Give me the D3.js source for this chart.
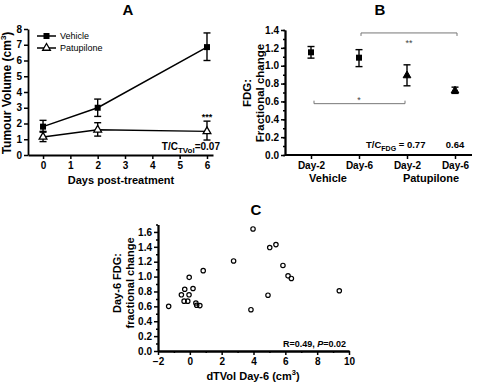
<!DOCTYPE html>
<html><head><meta charset="utf-8">
<script src="https://cdn.jsdelivr.net/npm/d3@7"></script>
<style>
body{margin:0;background:#fff;}
svg{font-family:"Liberation Sans",Arial,sans-serif;}
</style></head>
<body><svg id="c" width="480" height="383"></svg>
<script>
// ---- Panel A data ----
const daysA = [0, 2, 6];
const vehicleMean = [1.8, 3.0, 6.85];
const vehicleLo = [1.45, 2.45, 6.0];
const vehicleHi = [2.2, 3.55, 7.75];
const patuMean = [1.15, 1.6, 1.5];
const patuLo = [0.85, 1.2, 0.95];
const patuHi = [1.5, 2.05, 2.15];
const ticksAx = [0, 1, 2, 3, 4, 5, 6];
const ticksAy = [0, 1, 2, 3, 4, 5, 6, 7, 8];

// ---- Panel B data ----
const catsB = ["V-Day-2", "V-Day-6", "P-Day-2", "P-Day-6"];
const catLabelsB = ["Day-2", "Day-6", "Day-2", "Day-6"];
const groupB = ["Vehicle", "Vehicle", "Patupilone", "Patupilone"];
const meanB = [1.15, 1.09, 0.89, 0.72];
const loB = [1.085, 0.99, 0.775, 0.69];
const hiB = [1.215, 1.18, 1.01, 0.76];
const ticksBy = [0, 0.2, 0.4, 0.6, 0.8, 1.0, 1.2, 1.4];

// ---- Panel C data ----
const dTVol = [-1.33, -0.53, -0.32, -0.36, -0.13, -0.05, -0.04, 0.20, 0.38, 0.43, 0.63, 0.84, 2.75, 3.84, 3.97, 4.91, 5.02, 5.41, 5.85, 6.17, 6.38, 9.39];
const fdgC  = [0.60, 0.755, 0.83, 0.67, 0.67, 0.755, 0.99, 0.84, 0.645, 0.615, 0.61, 1.08, 1.21, 0.555, 1.64, 0.75, 1.39, 1.43, 1.15, 1.01, 0.975, 0.81];
const ticksCx = [-2, 0, 2, 4, 6, 8, 10];
const ticksCy = [0, 0.2, 0.4, 0.6, 0.8, 1.0, 1.2, 1.4, 1.6];

const svg = d3.select("#c");
const FONT = "Liberation Sans, Arial, sans-serif";

function styleAxis(g) {
  g.selectAll("path.domain").attr("stroke", "#000").attr("stroke-width", 1.8);
  g.selectAll(".tick line").attr("stroke", "#000").attr("stroke-width", 1.5);
  g.selectAll(".tick text").attr("font-family", FONT).attr("font-weight", "bold").attr("font-size", 10).attr("fill", "#000");
}
function errBar(g, x, y1, y2, cap) {
  g.append("line").attr("x1", x).attr("x2", x).attr("y1", y1).attr("y2", y2).attr("stroke", "#000").attr("stroke-width", 1.4);
  g.append("line").attr("x1", x - cap).attr("x2", x + cap).attr("y1", y1).attr("y2", y1).attr("stroke", "#000").attr("stroke-width", 1.4);
  g.append("line").attr("x1", x - cap).attr("x2", x + cap).attr("y1", y2).attr("y2", y2).attr("stroke", "#000").attr("stroke-width", 1.4);
}
const tri = d3.symbol().type(d3.symbolTriangle).size(26);

// ================= Panel A =================
{
  const x = d3.scaleLinear().domain([-0.55, 6.22]).range([28, 213]);
  const y = d3.scaleLinear().domain([0, 8]).range([155, 29]);
  const g = svg.append("g");
  g.append("g").attr("transform", "translate(0,155)")
    .call(d3.axisBottom(x).tickValues(ticksAx).tickSize(4).tickSizeOuter(0).tickPadding(3).tickFormat(d3.format("d")))
    .call(styleAxis);
  g.append("g").attr("transform", "translate(28,0)")
    .call(d3.axisLeft(y).tickValues(ticksAy).tickSize(4).tickSizeOuter(0).tickPadding(2).tickFormat(d3.format("d")))
    .call(styleAxis);
  const line = d3.line().x((d, i) => x(daysA[i])).y(d => y(d));
  g.append("path").datum(vehicleMean).attr("d", line).attr("fill", "none").attr("stroke", "#000").attr("stroke-width", 1.5);
  g.append("path").datum(patuMean).attr("d", line).attr("fill", "none").attr("stroke", "#000").attr("stroke-width", 1.5);
  daysA.forEach((d, i) => {
    errBar(g, x(d), y(vehicleHi[i]), y(vehicleLo[i]), 3.5);
    errBar(g, x(d), y(patuHi[i]), y(patuLo[i]), 3.5);
    g.append("rect").attr("x", x(d) - 3).attr("y", y(vehicleMean[i]) - 3).attr("width", 6).attr("height", 6).attr("fill", "#000");
    g.append("path").attr("d", tri).attr("transform", `translate(${x(d)},${y(patuMean[i])})`).attr("fill", "#fff").attr("stroke", "#000").attr("stroke-width", 1.3);
  });
  // legend
  g.append("line").attr("x1", 37).attr("x2", 56).attr("y1", 36).attr("y2", 36).attr("stroke", "#000").attr("stroke-width", 1.5);
  g.append("rect").attr("x", 43.5).attr("y", 33).attr("width", 6).attr("height", 6).attr("fill", "#000");
  g.append("text").attr("x", 60).attr("y", 39).attr("font-size", 9).attr("font-family", FONT).text("Vehicle");
  g.append("line").attr("x1", 37).attr("x2", 56).attr("y1", 48).attr("y2", 48).attr("stroke", "#000").attr("stroke-width", 1.5);
  g.append("path").attr("d", tri).attr("transform", "translate(46.5,48)").attr("fill", "#fff").attr("stroke", "#000").attr("stroke-width", 1.3);
  g.append("text").attr("x", 60).attr("y", 51).attr("font-size", 9).attr("font-family", FONT).text("Patupilone");
  // annotations
  g.append("text").attr("x", x(6)).attr("y", 120).attr("text-anchor", "middle").attr("font-size", 9).attr("font-weight", "bold").attr("font-family", FONT).text("***");
  const tc = g.append("text").attr("x", 220).attr("y", 150).attr("text-anchor", "end").attr("font-size", 10).attr("font-weight", "bold").attr("font-family", FONT);
  tc.append("tspan").text("T/C");
  tc.append("tspan").attr("font-size", 8).attr("dy", 2.5).text("TVol");
  tc.append("tspan").attr("dy", -2.5).text("=0.07");
  // titles / labels
  g.append("text").attr("x", 128).attr("y", 15).attr("text-anchor", "middle").attr("font-size", 15).attr("font-weight", "bold").attr("font-family", FONT).text("A");
  g.append("text").attr("x", 121).attr("y", 184).attr("text-anchor", "middle").attr("font-size", 11).attr("font-weight", "bold").attr("font-family", FONT).text("Days post-treatment");
  const yl = g.append("text").attr("transform", "translate(11,93) rotate(-90)").attr("text-anchor", "middle").attr("font-size", 12).attr("font-weight", "bold").attr("font-family", FONT);
  yl.append("tspan").text("Tumour Volume (cm");
  yl.append("tspan").attr("font-size", 8).attr("dy", -5).text("3");
  yl.append("tspan").attr("dy", 5).text(")");
}

// ================= Panel B =================
{
  const x = d3.scalePoint().domain(catsB).range([311, 455]);
  const y = d3.scaleLinear().domain([0, 1.4]).range([155, 30]);
  const g = svg.append("g");
  // x axis line (extends beyond the categories)
  const xAxis = d3.axisBottom(x).tickSize(4).tickSizeOuter(0).tickPadding(3).tickFormat((d, i) => catLabelsB[i]);
  const ax = g.append("g").attr("transform", "translate(0,155)").call(xAxis).call(styleAxis);
  ax.select("path.domain").remove();
  g.append("line").attr("x1", 285).attr("x2", 472).attr("y1", 155).attr("y2", 155).attr("stroke", "#000").attr("stroke-width", 1.8);
  g.append("g").attr("transform", "translate(285,0)")
    .call(d3.axisLeft(y).tickValues(d3.range(0, 1.41, 0.1)).tickSize(2).tickSizeOuter(0).tickFormat(""))
    .call(styleAxis);
  g.append("g").attr("transform", "translate(285,0)")
    .call(d3.axisLeft(y).tickValues(ticksBy).tickSize(4).tickSizeOuter(0).tickPadding(2).tickFormat(d3.format(".1f")))
    .call(styleAxis);
  catsB.forEach((c, i) => {
    errBar(g, x(c), y(hiB[i]), y(loB[i]), 3.5);
    if (groupB[i] === "Vehicle") {
      g.append("rect").attr("x", x(c) - 3).attr("y", y(meanB[i]) - 3).attr("width", 6).attr("height", 6).attr("fill", "#000");
    } else {
      g.append("path").attr("d", tri).attr("transform", `translate(${x(c)},${y(meanB[i])})`).attr("fill", "#000").attr("stroke", "#000").attr("stroke-width", 1);
    }
  });
  // group labels
  g.append("text").attr("x", 328).attr("y", 182).attr("text-anchor", "middle").attr("font-size", 11).attr("font-weight", "bold").attr("font-family", FONT).text("Vehicle");
  g.append("text").attr("x", 431).attr("y", 182).attr("text-anchor", "middle").attr("font-size", 11).attr("font-weight", "bold").attr("font-family", FONT).text("Patupilone");
  // brackets
  const br = "#777";
  const yTop = y(1.367), yBot = y(0.575);
  g.append("path").attr("d", `M${x(catsB[1]) + 2},${yTop + 3}V${yTop}H${x(catsB[3]) + 2}V${yTop + 3}`).attr("fill", "none").attr("stroke", br).attr("stroke-width", 1);
  g.append("path").attr("d", `M${x(catsB[0]) + 3},${yBot - 3}V${yBot}H${x(catsB[2]) - 2}V${yBot - 3}`).attr("fill", "none").attr("stroke", br).attr("stroke-width", 1);
  g.append("text").attr("x", (x(catsB[1]) + x(catsB[3])) / 2 + 2).attr("y", yTop + 13).attr("text-anchor", "middle").attr("font-size", 9).attr("fill", "#444").attr("font-family", FONT).text("**");
  g.append("text").attr("x", (x(catsB[0]) + x(catsB[2])) / 2).attr("y", yBot - 1).attr("text-anchor", "middle").attr("font-size", 9).attr("fill", "#444").attr("font-family", FONT).text("*");
  // T/C
  const tc = g.append("text").attr("x", 366).attr("y", 148).attr("font-size", 9.5).attr("font-weight", "bold").attr("font-family", FONT);
  tc.append("tspan").text("T/C");
  tc.append("tspan").attr("font-size", 7).attr("dy", 2.5).text("FDG");
  tc.append("tspan").attr("dy", -2.5).text(" = 0.77");
  g.append("text").attr("x", x(catsB[3])).attr("y", 148).attr("text-anchor", "middle").attr("font-size", 9.5).attr("font-weight", "bold").attr("font-family", FONT).text("0.64");
  // title / y label
  g.append("text").attr("x", 380).attr("y", 15).attr("text-anchor", "middle").attr("font-size", 15).attr("font-weight", "bold").attr("font-family", FONT).text("B");
  g.append("text").attr("transform", "translate(251,93) rotate(-90)").attr("text-anchor", "middle").attr("font-size", 11.5).attr("font-weight", "bold").attr("font-family", FONT).text("FDG:");
  g.append("text").attr("transform", "translate(264,93) rotate(-90)").attr("text-anchor", "middle").attr("font-size", 11.5).attr("font-weight", "bold").attr("font-family", FONT).text("Fractional change");
}

// ================= Panel C =================
{
  const x = d3.scaleLinear().domain([-2, 10]).range([158, 349]);
  const y = d3.scaleLinear().domain([0, 1.7]).range([351, 224.5]);
  const g = svg.append("g");
  g.append("g").attr("transform", "translate(0,351)")
    .call(d3.axisBottom(x).tickValues(d3.range(-1, 10, 2)).tickSize(2).tickSizeOuter(0).tickFormat(""))
    .call(styleAxis);
  g.append("g").attr("transform", "translate(0,351)")
    .call(d3.axisBottom(x).tickValues(ticksCx).tickSize(4).tickSizeOuter(0).tickPadding(3).tickFormat(d3.format("d")))
    .call(styleAxis);
  g.append("g").attr("transform", "translate(158,0)")
    .call(d3.axisLeft(y).tickValues(d3.range(0.1, 1.71, 0.2)).tickSize(2).tickSizeOuter(0).tickFormat(""))
    .call(styleAxis);
  g.append("g").attr("transform", "translate(158,0)")
    .call(d3.axisLeft(y).tickValues(ticksCy).tickSize(4).tickSizeOuter(0).tickPadding(2).tickFormat(d3.format(".1f")))
    .call(styleAxis);
  dTVol.forEach((v, i) => {
    g.append("circle").attr("cx", x(v)).attr("cy", y(fdgC[i])).attr("r", 2.2).attr("fill", "none").attr("stroke", "#000").attr("stroke-width", 1.2);
  });
  const r = g.append("text").attr("x", 346).attr("y", 347).attr("text-anchor", "end").attr("font-size", 9).attr("font-weight", "bold").attr("font-family", FONT);
  r.append("tspan").text("R=0.49, ");
  r.append("tspan").attr("font-style", "italic").text("P");
  r.append("tspan").text("=0.02");
  g.append("text").attr("x", 256).attr("y", 215).attr("text-anchor", "middle").attr("font-size", 15).attr("font-weight", "bold").attr("font-family", FONT).text("C");
  const xl = g.append("text").attr("x", 253).attr("y", 380).attr("text-anchor", "middle").attr("font-size", 11).attr("font-weight", "bold").attr("font-family", FONT);
  xl.append("tspan").text("dTVol Day-6 (cm");
  xl.append("tspan").attr("font-size", 7.5).attr("dy", -5).text("3");
  xl.append("tspan").attr("dy", 5).text(")");
  g.append("text").attr("transform", "translate(121,283) rotate(-90)").attr("text-anchor", "middle").attr("font-size", 11).attr("font-weight", "bold").attr("font-family", FONT).text("Day-6 FDG:");
  g.append("text").attr("transform", "translate(134,283) rotate(-90)").attr("text-anchor", "middle").attr("font-size", 11).attr("font-weight", "bold").attr("font-family", FONT).text("fractional change");
}
</script></body></html>
